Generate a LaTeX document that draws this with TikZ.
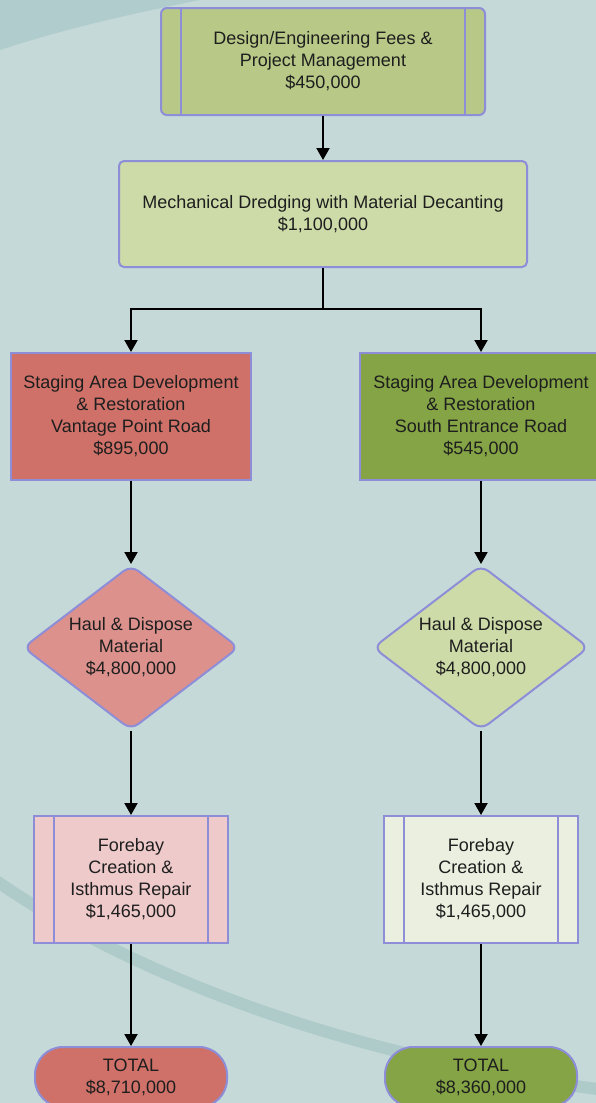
\documentclass[tikz,border=0pt]{standalone}
\usepackage{fontspec}
\setmainfont{Liberation Sans}
\usetikzlibrary{shapes.geometric,arrows.meta,positioning}
\definecolor{bgcol}{HTML}{C4D9D8}
\definecolor{bgdark}{HTML}{B1CCCC}
\definecolor{bgband}{HTML}{AECBCA}
\definecolor{edge}{HTML}{8D8DD8}
\definecolor{olive}{HTML}{B8C987}
\definecolor{pale}{HTML}{CDDBA8}
\definecolor{brick}{HTML}{CF7168}
\definecolor{grass}{HTML}{84A445}
\definecolor{rose}{HTML}{DC918C}
\definecolor{blush}{HTML}{EFCACA}
\definecolor{cream}{HTML}{EBEFDF}
\definecolor{ink}{HTML}{1E1E1E}
\tikzstyle{box} = [draw=edge,line width=2pt,rectangle,inner sep=0,align=center,text=ink,font=\fontsize{18}{22}\selectfont]
\tikzstyle{proc} = [box,rounded corners=6pt,minimum width=324pt,minimum height=107pt]
\tikzstyle{task} = [box,rounded corners=5pt,minimum width=408pt,minimum height=106pt]
\tikzstyle{stage} = [box,minimum width=240pt,minimum height=127pt]
\tikzstyle{haul} = [box,diamond,aspect=1.31,rounded corners=9pt,minimum width=216pt,minimum height=165pt]
\tikzstyle{forebay} = [box,minimum width=194pt,minimum height=127pt]
\tikzstyle{total} = [box,rounded corners=28pt,minimum width=192pt,minimum height=60pt]
\tikzstyle{bar} = [draw=edge,line width=2pt]
\tikzstyle{wire} = [-,black,line width=2pt]
\tikzstyle{flow} = [wire,-{Triangle[width=13pt,length=12pt]}]
\def \bw {21pt}

\begin{document}
\begin{tikzpicture}[x=1pt,y=-1pt]
      \useasboundingbox (0,0) rectangle (596,1103);
      \clip (0,0) rectangle (596,1103);
      % background
      \fill[bgcol] (0,0) rectangle (596,1103);
      \fill[bgdark] (0,0) -- (200,0) .. controls (130,14) and (60,30) .. (0,50) -- cycle;
      \draw[bgband,line width=12pt] (-5,880) .. controls (120,967) and (330,1055) .. (605,1090);
      % nodes
      \node[proc,fill=olive] (fees) at (323,61.5) {Design/Engineering Fees \&\\Project Management\\\$450,000};
      \node[task,fill=pale] (dredge) at (323,214) {Mechanical Dredging with Material Decanting\\\$1,100,000};
      \node[stage,fill=brick] (stageL) at (131,416.5) {Staging Area Development\\\& Restoration\\Vantage Point Road\\\$895,000};
      \node[stage,fill=grass,minimum width=242pt] (stageR) at (481,416.5) {Staging Area Development\\\& Restoration\\South Entrance Road\\\$545,000};
      \node[haul,fill=rose] (haulL) at (131,647.5) {Haul \& Dispose\\Material\\\$4,800,000};
      \node[haul,fill=pale] (haulR) at (481,647.5) {Haul \& Dispose\\Material\\\$4,800,000};
      \node[forebay,fill=blush] (foreL) at (131,879.5) {Forebay\\Creation \&\\Isthmus Repair\\\$1,465,000};
      \node[forebay,fill=cream] (foreR) at (481,879.5) {Forebay\\Creation \&\\Isthmus Repair\\\$1,465,000};
      \node[total,fill=brick] (totL) at (131,1077) {TOTAL\\\$8,710,000};
      \node[total,fill=grass] (totR) at (481,1077) {TOTAL\\\$8,360,000};
      % side bars
      \foreach \n in {fees,foreL,foreR} {
        \draw[bar] ([xshift=\bw]\n.north west) -- ([xshift=\bw]\n.south west);
        \draw[bar] ([xshift=-\bw]\n.north east) -- ([xshift=-\bw]\n.south east);
      }
      % connectors
      \coordinate (fork) at (323,309);
      \draw[flow] (fees) -- (dredge);
      \draw[wire] (dredge) -- (fork);
      \draw[flow] (fork) -| (stageL);
      \draw[flow] (fork) -| (stageR);
      \draw[flow] (stageL) -- (haulL);
      \draw[flow] (stageR) -- (haulR);
      \draw[flow] (haulL) -- (foreL);
      \draw[flow] (haulR) -- (foreR);
      \draw[flow] (foreL) -- (totL);
      \draw[flow] (foreR) -- (totR);
    \end{tikzpicture}
\end{document}
